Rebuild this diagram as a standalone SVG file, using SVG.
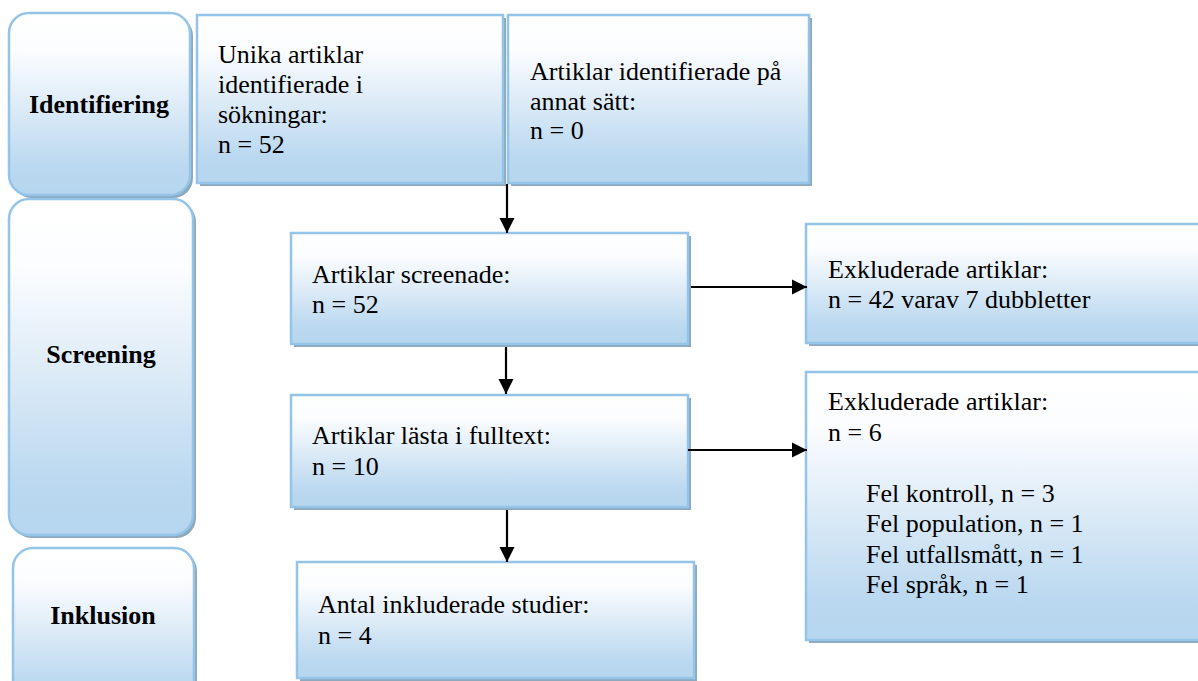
<svg xmlns="http://www.w3.org/2000/svg" width="1198" height="681" viewBox="0 0 1198 681">
<defs>
<linearGradient id="g" x1="0" y1="0" x2="0" y2="1">
<stop offset="0" stop-color="#FFFFFF"/>
<stop offset="0.2" stop-color="#FCFDFF"/>
<stop offset="0.55" stop-color="#D9E9F6"/>
<stop offset="0.85" stop-color="#BAD8F0"/>
<stop offset="1" stop-color="#B6D6EF"/>
</linearGradient>
<marker id="ah" markerUnits="userSpaceOnUse" markerWidth="16" markerHeight="16" viewBox="0 0 16 16" refX="15" refY="8" orient="auto">
<path d="M0,0.5 L15,8 L0,15.5 Z" fill="#000"/>
</marker>
<style>
.box{fill:url(#g);stroke:#94C4E8;stroke-width:2.5}
.sh{fill:#8EA8BE}
.t{font-family:"Liberation Serif","Times New Roman",serif;font-size:26px;fill:#000}
.b{font-weight:bold;text-anchor:middle}
.c{stroke:#000;stroke-width:2.2;fill:none;marker-end:url(#ah)}
</style>
</defs>
<rect width="1198" height="681" fill="#FFFFFF"/>

<g id="stage-identifiering">
<rect class="sh" x="12" y="16" width="181" height="182" rx="20"/>
<rect class="box" x="9" y="13" width="181" height="182" rx="20"/>
<text class="t b" x="99" y="113">Identifiering</text>
</g>
<g id="stage-screening">
<rect class="sh" x="12" y="202" width="184" height="336" rx="20"/>
<rect class="box" x="9" y="199" width="184" height="336" rx="20"/>
<text class="t b" x="101" y="363">Screening</text>
</g>
<g id="stage-inklusion">
<rect class="sh" x="16" y="551" width="181" height="160" rx="20"/>
<rect class="box" x="13" y="548" width="181" height="160" rx="20"/>
<text class="t b" x="103" y="624">Inklusion</text>
</g>

<g id="unika">
<rect class="sh" x="200" y="18" width="306" height="168"/>
<rect class="box" x="197" y="15" width="306" height="168"/>
<text class="t" x="218" y="63">Unika artiklar</text>
<text class="t" x="218" y="93">identifierade i</text>
<text class="t" x="218" y="123">sökningar:</text>
<text class="t" x="218" y="153">n = 52</text>
</g>
<g id="annat">
<rect class="sh" x="511" y="18" width="301" height="168"/>
<rect class="box" x="508" y="15" width="301" height="168"/>
<text class="t" x="530" y="80">Artiklar identifierade på</text>
<text class="t" x="530" y="110">annat sätt:</text>
<text class="t" x="530" y="139">n = 0</text>
</g>
<g id="screenade">
<rect class="sh" x="294" y="236" width="397" height="111"/>
<rect class="box" x="291" y="233" width="397" height="111"/>
<text class="t" x="312" y="283">Artiklar screenade:</text>
<text class="t" x="312" y="313">n = 52</text>
</g>
<g id="lasta">
<rect class="sh" x="294" y="398" width="397" height="112"/>
<rect class="box" x="291" y="395" width="397" height="112"/>
<text class="t" x="312" y="444">Artiklar lästa i fulltext:</text>
<text class="t" x="312" y="475">n = 10</text>
</g>
<g id="antal">
<rect class="sh" x="300" y="565" width="397" height="116"/>
<rect class="box" x="297" y="562" width="397" height="116"/>
<text class="t" x="318" y="613">Antal inkluderade studier:</text>
<text class="t" x="318" y="644">n = 4</text>
</g>
<g id="exkl1">
<rect class="sh" x="809" y="227" width="400" height="119"/>
<rect class="box" x="806" y="224" width="400" height="119"/>
<text class="t" x="828" y="278">Exkluderade artiklar:</text>
<text class="t" x="828" y="308">n = 42 varav 7 dubbletter</text>
</g>
<g id="exkl2">
<rect class="sh" x="809" y="375" width="400" height="268"/>
<rect class="box" x="806" y="372" width="400" height="268"/>
<text class="t" x="828" y="410">Exkluderade artiklar:</text>
<text class="t" x="828" y="441">n = 6</text>
<text class="t" x="866" y="502">Fel kontroll, n = 3</text>
<text class="t" x="866" y="532">Fel population, n = 1</text>
<text class="t" x="866" y="563">Fel utfallsmått, n = 1</text>
<text class="t" x="866" y="593">Fel språk, n = 1</text>
</g>

<g id="connectors">
<line class="c" x1="507" y1="184" x2="507" y2="233"/>
<line class="c" x1="506" y1="347" x2="506" y2="394"/>
<line class="c" x1="507" y1="510" x2="507" y2="562"/>
<line class="c" x1="691" y1="287" x2="807" y2="287"/>
<line class="c" x1="688" y1="450" x2="807" y2="450"/>
</g>
</svg>
